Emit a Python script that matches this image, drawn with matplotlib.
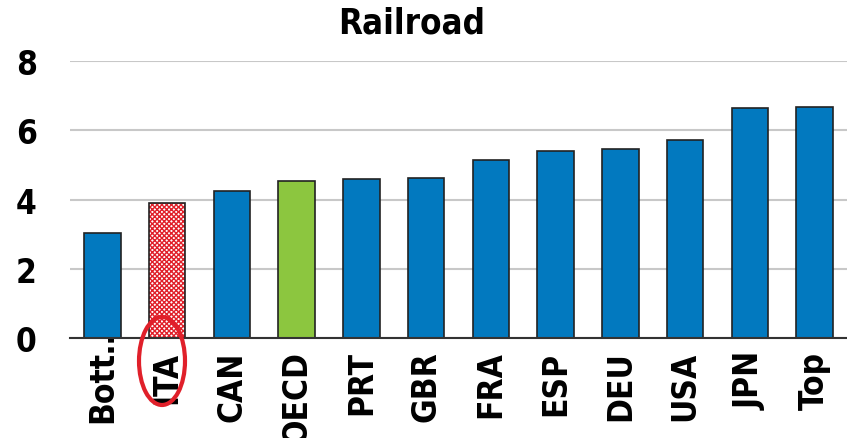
import matplotlib
matplotlib.use("Agg")
import matplotlib.pyplot as plt
from matplotlib.patches import Ellipse
from matplotlib import font_manager
from matplotlib.transforms import ScaledTranslation

categories = ["Bott…", "ITA", "CAN", "OECD", "PRT", "GBR", "FRA", "ESP", "DEU", "USA", "JPN", "Top"]
values = [3.03, 3.9, 4.25, 4.54, 4.6, 4.62, 5.14, 5.4, 5.46, 5.72, 6.65, 6.68]
yticks = [0, 2, 4, 6, 8]
title = "Railroad"

# pick a narrow bold face if one is installed
names = {f.name for f in font_manager.fontManager.ttflist}
cond_dejavu = any(f.name == "DejaVu Sans" and "condensed" in str(f.stretch) for f in font_manager.fontManager.ttflist)
if "Liberation Sans Narrow" in names:
    FAM, STRETCH, FS = ["Liberation Sans Narrow", "DejaVu Sans"], "normal", 28
elif cond_dejavu:
    FAM, STRETCH, FS = ["DejaVu Sans", "Liberation Sans"], "condensed", 24
else:
    FAM, STRETCH, FS = ["Liberation Sans", "DejaVu Sans"], "normal", 23
plt.rcParams['font.family'] = FAM
plt.rcParams['font.stretch'] = STRETCH

BLUE = "#0279BF"
GREEN = "#8CC63F"
RED = "#E0202A"

fig = plt.figure(figsize=(8.47, 4.39), dpi=100)
ax = fig.add_axes([70/847, 1-339/439, 777/847, (339-62)/439])

x = list(range(len(categories)))
colors = [BLUE] * len(categories)
colors[3] = GREEN
for i, (xi, v) in enumerate(zip(x, values)):
    if categories[i] == "ITA":
        ax.bar(xi, v, width=0.56, color="white", edgecolor=RED, hatch="xxxxxxx", linewidth=0, zorder=3)
        ax.bar(xi, v, width=0.56, fill=False, edgecolor="#222222", linewidth=1.2, zorder=4)
    else:
        ax.bar(xi, v, width=0.56, color=colors[i], edgecolor="#222222", linewidth=1.2, zorder=3)

ax.set_xlim(-0.5, len(categories) - 0.5)
ax.set_ylim(0, 8)
ax.set_yticks(yticks)
ax.set_yticklabels([str(t) for t in yticks], fontsize=FS, fontweight="bold")
ax.set_xticks(x)
ax.set_xticklabels(categories, rotation=90, fontsize=FS, fontweight="bold")
ax.tick_params(axis="both", length=0)
ax.tick_params(axis="y", pad=24)
ax.tick_params(axis="x", pad=9)
ax.yaxis.grid(True, color="#C8C8C8", linewidth=1.5, zorder=0)
ax.set_axisbelow(True)
for s in ["left", "right", "top"]:
    ax.spines[s].set_visible(False)
ax.spines["bottom"].set_color("#333333")
ax.spines["bottom"].set_linewidth(1.5)
ax.spines["bottom"].set_zorder(5)

# first label overflows upward over its bar, as in the reference
lbl0 = ax.get_xticklabels()[0]
lbl0.set_transform(lbl0.get_transform() + ScaledTranslation(0, 0.30, fig.dpi_scale_trans))

fig.text(412/847, 1-23/439, title, ha="center", va="center", fontsize=FS + 1, fontweight="bold")

ell = Ellipse((162/847, 1-362/439), 46/847, 88/439, transform=fig.transFigure,
              fill=False, edgecolor=RED, linewidth=3, zorder=10)
fig.patches.append(ell)

fig.savefig("out.png", dpi=100)
